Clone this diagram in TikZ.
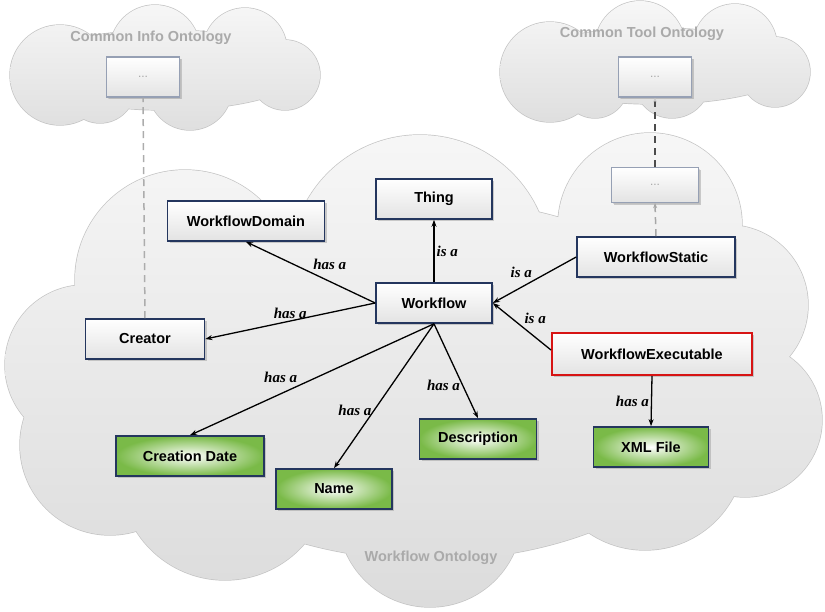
\documentclass[tikz,border=0pt]{standalone}
\usepackage{fontspec}
\newfontfamily\boxfont{Liberation Sans}
\newfontfamily\relfont{Liberation Serif}
\usetikzlibrary{arrows.meta,shadows}
\definecolor{navyline}{RGB}{36,54,94}
\definecolor{leafgreen}{RGB}{122,186,72}
\definecolor{titlegray}{RGB}{170,170,170}
\definecolor{cloudline}{RGB}{196,196,196}
\definecolor{redline}{RGB}{215,20,20}
\definecolor{dotline}{RGB}{150,160,180}
\begin{document}
\begin{tikzpicture}[x=1pt,y=-1pt,
    classbox/.style={draw=navyline, line width=1.6pt, top color=white, bottom color=gray!22,
      minimum height=40pt, inner sep=2pt, font=\boxfont\bfseries\fontsize{14.5}{16}\selectfont,
      drop shadow={shadow xshift=2pt,shadow yshift=-2pt,fill=gray!75}},
    databox/.style={classbox, inner color=white, outer color=leafgreen},
    execbox/.style={classbox, draw=redline, line width=2pt},
    dotbox/.style={classbox, draw=dotline, line width=1.2pt, text=gray!70, font=\boxfont\fontsize{12}{14}\selectfont,
      drop shadow={shadow xshift=1.5pt,shadow yshift=-1.5pt,fill=gray!55}},
    rel/.style={-{Stealth[length=7pt,width=5pt]}, line width=1.3pt},
    link/.style={dashed, dash pattern=on 7pt off 5pt, line width=1.5pt},
    lbl/.style={font=\relfont\bfseries\itshape\fontsize{15}{17}\selectfont, inner sep=2pt},
    title/.style={text=titlegray, font=\boxfont\bfseries\fontsize{14.5}{16}\selectfont}]
  \useasboundingbox (0,0) rectangle (825,611);

  % the three clouds
  \def\maincloud{(185,280) circle (110) (420,265) circle (130) (650,225) circle (92)
    (728,305) circle (80) (745,420) circle (77) (645,450) circle (100)
    (430,515) circle (92) (225,475) circle (105) (110,445) circle (90)
    (85,365) circle (80) (430,380) ellipse (300 and 180)}
  \def\infocloud{(155,50) circle (45) (245,50) circle (42) (60,75) circle (50)
    (285,75) circle (35) (100,88) circle (35) (190,88) circle (42) (165,70) ellipse (140 and 40)}
  \def\toolcloud{(640,46) circle (45) (735,46) circle (42) (550,72) circle (50)
    (775,72) circle (35) (595,85) circle (33) (672,80) circle (38) (655,66) ellipse (140 and 38)}

  \draw[cloudline, line width=1.4pt] \maincloud;
  \begin{scope}
    \clip \maincloud;
    \shade[top color=gray!6, bottom color=gray!28] (0,120) rectangle (825,611);
  \end{scope}
  \draw[cloudline, line width=1.4pt] \infocloud;
  \begin{scope}
    \clip \infocloud;
    \shade[top color=gray!6, bottom color=gray!26] (0,0) rectangle (330,135);
  \end{scope}
  \draw[cloudline, line width=1.4pt] \toolcloud;
  \begin{scope}
    \clip \toolcloud;
    \shade[top color=gray!6, bottom color=gray!26] (490,0) rectangle (825,125);
  \end{scope}

  \node[title] (infotitle) at (151,38) {Common Info Ontology};
  \node[title] (tooltitle) at (642,34) {Common Tool Ontology};
  \node[title] (wftitle) at (431,558) {Workflow Ontology};

  % classes
  \node[dotbox, minimum width=73pt] (infodots) at (143,77) {...};
  \node[dotbox, minimum width=73pt] (tooldots) at (655,77) {...};
  \node[dotbox, minimum width=87pt, minimum height=35pt] (staticdots) at (655,185) {...};

  \node[classbox, minimum width=116pt] (thing) at (434,199) {Thing};
  \node[classbox, minimum width=157pt] (domain) at (246,221) {WorkflowDomain};
  \node[classbox, minimum width=116pt] (workflow) at (434,303) {Workflow};
  \node[classbox, minimum width=158pt] (static) at (656,257) {WorkflowStatic};
  \node[classbox, minimum width=119pt] (creator) at (145,339) {Creator};
  \node[execbox, minimum width=200pt, minimum height=42pt] (exec) at (652,354) {WorkflowExecutable};
  \node[databox, minimum width=148pt] (date) at (190,456) {Creation Date};
  \node[databox, minimum width=116pt] (name) at (334,489) {Name};
  \node[databox, minimum width=117pt] (descr) at (478,439) {Description};
  \node[databox, minimum width=115pt] (xml) at (651,447) {XML File};

  % links to the common ontologies
  \draw[link, gray!65] (creator.north) -- (infodots.south);
  \draw[link, gray!70, -{Stealth[length=5pt,width=4pt]}] (static.north) -- (staticdots.south);
  \draw[link, black!70, -{Stealth[length=5pt,width=4pt,color=gray!40]}] (staticdots.north) -- (tooldots.south);

  % relations
  \draw[rel] (workflow.north) -- (thing.south) node[midway,right,lbl] {is a};
  \draw[rel] (workflow.west) -- (domain.south) node[midway,above right,lbl] {has a};
  \draw[rel] (workflow.west) -- (creator.east) node[midway,above,lbl] {has a};
  \draw[rel] (static.west) -- (workflow.east) node[midway,above left,lbl] {is a};
  \draw[rel] ([yshift=4pt]exec.west) -- (workflow.east) node[midway,above right,lbl] {is a};
  \draw[rel] (workflow.south) -- (date.north) node[pos=0.55,above left,lbl] {has a};
  \draw[rel] (workflow.south) -- (name.north) node[pos=0.6,left,lbl] {has a};
  \draw[rel] (workflow.south) -- (descr.north) node[pos=0.65,left,lbl] {has a};
  \draw[rel] (exec.south) -- (xml.north) node[midway,left,lbl] {has a};
\end{tikzpicture}
\end{document}
